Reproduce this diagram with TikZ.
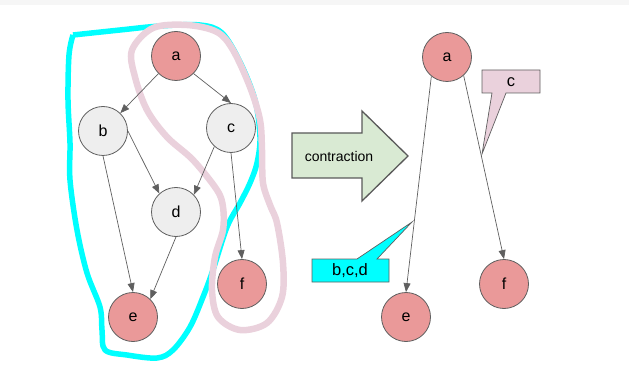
\documentclass[tikz,border=0pt]{standalone}
\usepackage{fontspec}
\setmainfont{Liberation Sans}
\usetikzlibrary{arrows.meta}
\definecolor{nodered}{HTML}{EA9999}
\definecolor{nodegray}{HTML}{EEEEEE}
\definecolor{edgegray}{HTML}{5F5F5F}
\definecolor{loopcyan}{HTML}{00FFFF}
\definecolor{looppink}{HTML}{EAD1DC}
\definecolor{arrowgreen}{HTML}{D9EAD3}
\begin{document}
\begin{tikzpicture}[x=1pt,y=-1pt,
  vtx/.style={circle,draw=edgegray,line width=0.8pt,minimum size=49pt,inner sep=0pt,font=\fontsize{16}{16}\selectfont},
  rv/.style={vtx,fill=nodered},
  gv/.style={vtx,fill=nodegray},
  edge/.style={draw=edgegray,line width=0.7pt,-{Triangle[length=9pt,width=7pt]}},
  callout/.style={draw=edgegray,line width=0.7pt},
  lbl/.style={inner sep=0pt,font=\fontsize{16.5}{16.5}\selectfont}]
\useasboundingbox (0,0) rectangle (629,382);
\fill[gray!7] (0,0) rectangle (629,5);
% freehand loops
\draw[loopcyan,line width=5.5pt,line join=round] plot[smooth,tension=0.55] coordinates {
 (73,35) (120,30) (160,26) (200,25) (222,33) (240,62) (255,100) (260,137) (257,163)
 (250,183) (240,203) (227,227) (213,270) (203,297) (190,327) (173,350) (157,358)
 (127,355) (105,350) (102,330) (100,307) (87,273) (77,230) (70,180) (70,143) (68,100) (69,55) (73,35)};
\draw[looppink,line width=6.5pt,line join=round] plot[smooth cycle,tension=0.55] coordinates {
 (132,50) (153,28) (187,25) (217,32) (233,50) (250,87) (260,120) (262,150) (263,183)
 (270,205) (277,223) (283,263) (282,297) (267,323) (240,330) (218,317) (212,290)
 (215,257) (223,230) (223,207) (217,190) (193,160) (167,137) (147,110) (135,77)};
% left graph
\node[rv] (a) at (176,56) {a};
\node[gv] (b) at (103,131) {b};
\node[gv] (c) at (231,128) {c};
\node[gv] (d) at (176,212) {d};
\node[rv] (e) at (133,317) {e};
\node[rv] (f) at (242,284) {f};
\draw[edge] (a.225) -- (b.46);
\draw[edge] (a.315) -- (c.north);
\draw[edge] (b.east) -- (d.132);
\draw[edge] (b.south) -- (e.north);
\draw[edge] (c.228) -- (d.44);
\draw[edge] (c.south) -- (f.north);
\draw[edge] (d.south) -- (e.46);
% block arrow
\draw[draw=black!65,line width=1.3pt,fill=arrowgreen,line join=miter]
  (292,133) -- (362,133) -- (362,111) -- (408,156) -- (362,201) -- (362,178) -- (292,178) -- cycle;
\node[inner sep=0pt,font=\fontsize{14}{14}\selectfont] (contr) at (339,156) {contraction};
% right graph
\node[rv] (ra) at (447,57) {a};
\node[rv] (re) at (406,317) {e};
\node[rv] (rf) at (504,284) {f};
\draw[edge] (ra.231) -- (re.north);
\draw[edge] (ra.312) -- (rf.north);
% callouts
\draw[callout,fill=looppink] (482,70) -- (540,70) -- (540,93) -- (506,93) -- (482,154) -- (492,93) -- (482,93) -- cycle;
\node[lbl] (cc) at (511,82) {c};
\draw[callout,fill=loopcyan] (312,259) -- (357,259) -- (412,222) -- (377,259) -- (389,259) -- (389,282) -- (312,282) -- cycle;
\node[lbl] (cbcd) at (350,271) {b,c,d};
\end{tikzpicture}
\end{document}
